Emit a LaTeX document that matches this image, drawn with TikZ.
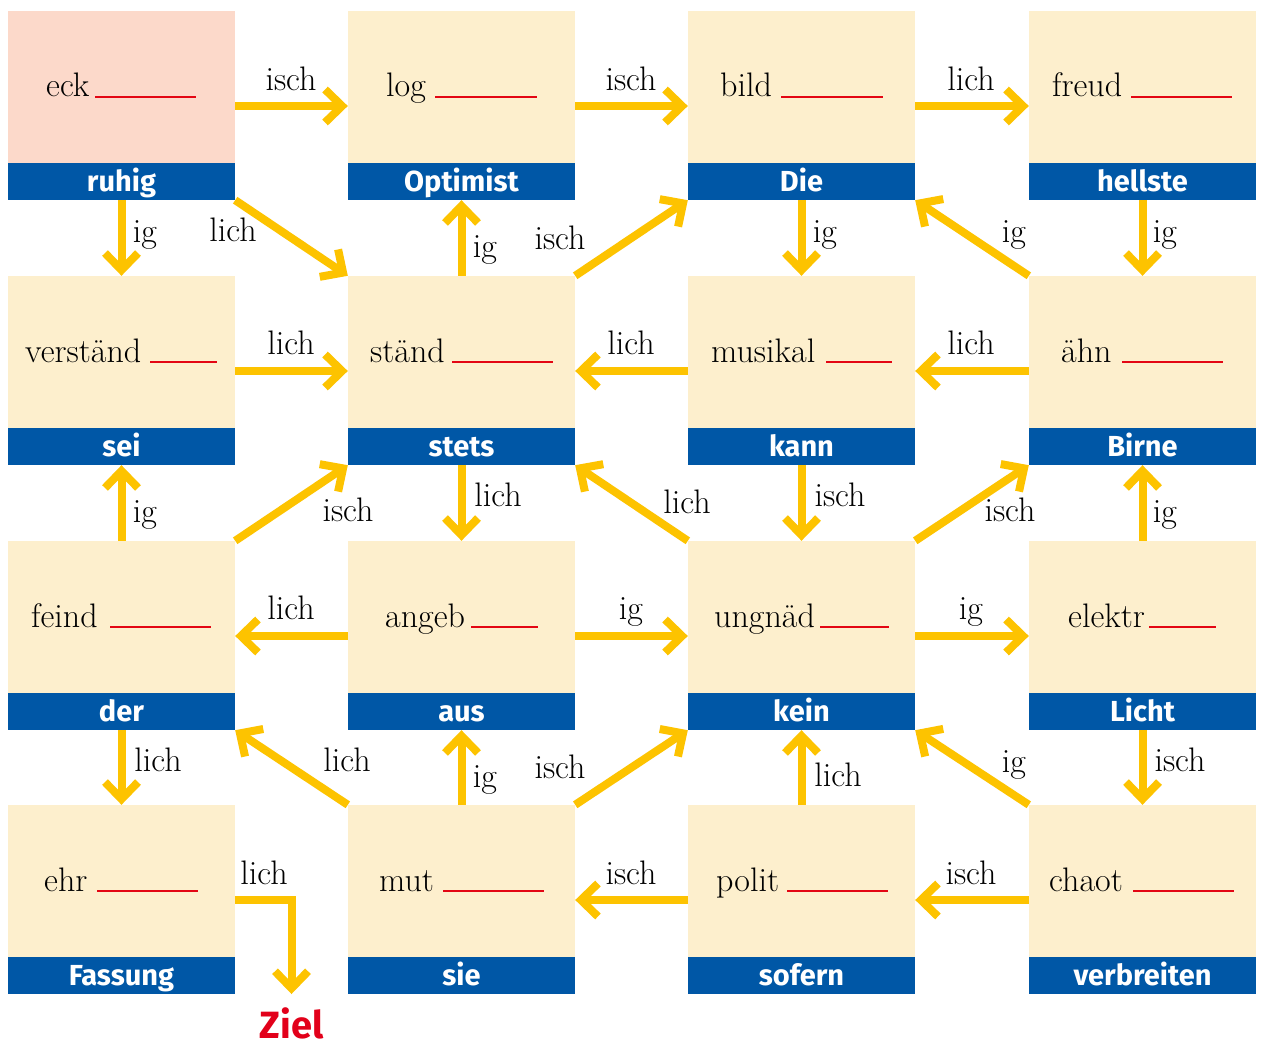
\documentclass[tikz,border=0pt]{standalone}
\usepackage{fontspec}
\newfontfamily\barfont{Fira Sans}
\usetikzlibrary{arrows.meta}
\definecolor{cream}{HTML}{FDEFCD}
\definecolor{salmon}{HTML}{FCD9CA}
\definecolor{barblue}{HTML}{0057A6}
\definecolor{arrowyellow}{HTML}{FDC300}
\definecolor{ulred}{HTML}{E30613}
\definecolor{zielred}{HTML}{E2001A}
\begin{document}
\begin{tikzpicture}[x=1pt,y=-1pt,
  box/.style={fill=cream, minimum width=227pt, minimum height=152pt, inner sep=0pt, draw=none},
  bar/.style={fill=barblue, minimum width=227pt, minimum height=37pt, inner sep=0pt, text=white,
    font=\barfont\bfseries\fontsize{29}{34}\selectfont, text height=22pt, text depth=3pt},
  word/.style={anchor=base west, inner sep=0pt, font=\fontsize{34}{40}\selectfont},
  lbl/.style={anchor=base, inner sep=0pt, font=\fontsize{34}{40}\selectfont},
  arr/.style={draw=arrowyellow, line width=8pt, -{Straight Barb[length=17pt,width=33pt]}},
  uline/.style={draw=ulred, line width=1.5pt}]
\useasboundingbox[fill=white] (0,0) rectangle (1263,1046);

% boxes
\node[box, fill=salmon] (u11) at (121.5,87) {};
\node[box] (u12) at (461.5,87) {};
\node[box] (u13) at (801.5,87) {};
\node[box] (u14) at (1142.5,87) {};
\node[bar] (l11) at (121.5,181.5) {ruhig};
\node[bar] (l12) at (461.5,181.5) {Optimist};
\node[bar] (l13) at (801.5,181.5) {Die};
\node[bar] (l14) at (1142.5,181.5) {hellste};

\node[box] (u21) at (121.5,352) {};
\node[box] (u22) at (461.5,352) {};
\node[box] (u23) at (801.5,352) {};
\node[box] (u24) at (1142.5,352) {};
\node[bar] (l21) at (121.5,446.5) {sei};
\node[bar] (l22) at (461.5,446.5) {stets};
\node[bar] (l23) at (801.5,446.5) {kann};
\node[bar] (l24) at (1142.5,446.5) {Birne};

\node[box] (u31) at (121.5,617) {};
\node[box] (u32) at (461.5,617) {};
\node[box] (u33) at (801.5,617) {};
\node[box] (u34) at (1142.5,617) {};
\node[bar] (l31) at (121.5,711.5) {der};
\node[bar] (l32) at (461.5,711.5) {aus};
\node[bar] (l33) at (801.5,711.5) {kein};
\node[bar] (l34) at (1142.5,711.5) {Licht};

\node[box] (u41) at (121.5,881) {};
\node[box] (u42) at (461.5,881) {};
\node[box] (u43) at (801.5,881) {};
\node[box] (u44) at (1142.5,881) {};
\node[bar] (l41) at (121.5,975.5) {Fassung};
\node[bar] (l42) at (461.5,975.5) {sie};
\node[bar] (l43) at (801.5,975.5) {sofern};
\node[bar] (l44) at (1142.5,975.5) {verbreiten};

% words and blanks
\node[word] (w11) at (46,97) {eck};      \draw[uline] (95,97) -- (196,97);
\node[word] (w12) at (386,97) {log};     \draw[uline] (435,97) -- (537,97);
\node[word] (w13) at (720,97) {bild};    \draw[uline] (781,97) -- (883,97);
\node[word] (w14) at (1052,97) {freud};  \draw[uline] (1131,97) -- (1232,97);
\node[word] (w21) at (25,362) {verständ};\draw[uline] (150,362) -- (217,362);
\node[word] (w22) at (370,362) {ständ};  \draw[uline] (452,362) -- (553,362);
\node[word] (w23) at (711,362) {musikal};\draw[uline] (826,362) -- (892,362);
\node[word] (w24) at (1061,362) {ähn};   \draw[uline] (1122,362) -- (1223,362);
\node[word] (w31) at (31,627) {feind};   \draw[uline] (110,627) -- (211,627);
\node[word] (w32) at (385,627) {angeb};  \draw[uline] (471,627) -- (538,627);
\node[word] (w33) at (714,627) {ungnäd}; \draw[uline] (820,627) -- (889,627);
\node[word] (w34) at (1068,627) {elektr};\draw[uline] (1149,627) -- (1216,627);
\node[word] (w41) at (44,891) {ehr};     \draw[uline] (97,891) -- (198,891);
\node[word] (w42) at (379,891) {mut};    \draw[uline] (443,891) -- (544,891);
\node[word] (w43) at (716,891) {polit};  \draw[uline] (787,891) -- (888,891);
\node[word] (w44) at (1049,891) {chaot}; \draw[uline] (1133,891) -- (1234,891);

% horizontal arrows
\draw[arr] ([yshift=-19pt]u11.east) -- ([yshift=-19pt]u12.west);
\draw[arr] ([yshift=-19pt]u12.east) -- ([yshift=-19pt]u13.west);
\draw[arr] ([yshift=-19pt]u13.east) -- ([yshift=-19pt]u14.west);
\draw[arr] ([yshift=-19pt]u21.east) -- ([yshift=-19pt]u22.west);
\draw[arr] ([yshift=-19pt]u23.west) -- ([yshift=-19pt]u22.east);
\draw[arr] ([yshift=-19pt]u24.west) -- ([yshift=-19pt]u23.east);
\draw[arr] ([yshift=-19pt]u32.west) -- ([yshift=-19pt]u31.east);
\draw[arr] ([yshift=-19pt]u32.east) -- ([yshift=-19pt]u33.west);
\draw[arr] ([yshift=-19pt]u33.east) -- ([yshift=-19pt]u34.west);
\draw[arr] ([yshift=-19pt]u43.west) -- ([yshift=-19pt]u42.east);
\draw[arr] ([yshift=-19pt]u44.west) -- ([yshift=-19pt]u43.east);

% vertical arrows
\draw[arr] (l11.south) -- (u21.north);
\draw[arr] (u22.north) -- (l12.south);
\draw[arr] (l13.south) -- (u23.north);
\draw[arr] (l14.south) -- (u24.north);
\draw[arr] (u31.north) -- (l21.south);
\draw[arr] (l22.south) -- (u32.north);
\draw[arr] (l23.south) -- (u33.north);
\draw[arr] (u34.north) -- (l24.south);
\draw[arr] (l31.south) -- (u41.north);
\draw[arr] (u42.north) -- (l32.south);
\draw[arr] (u43.north) -- (l33.south);
\draw[arr] (l34.south) -- (u44.north);

% diagonal arrows
\draw[arr] (l11.south east) -- (u22.north west);
\draw[arr] (u22.north east) -- (l13.south west);
\draw[arr] (u24.north west) -- (l13.south east);
\draw[arr] (u31.north east) -- (l22.south west);
\draw[arr] (u33.north west) -- (l22.south east);
\draw[arr] (u33.north east) -- (l24.south west);
\draw[arr] (u42.north west) -- (l31.south east);
\draw[arr] (u42.north east) -- (l33.south west);
\draw[arr] (u44.north west) -- (l33.south east);

% goal
\coordinate (zt) at (291.5,994);
\node[anchor=base, inner sep=0pt, text=zielred, font=\barfont\bfseries\fontsize{38}{44}\selectfont] (ziel) at (291.5,1038) {Ziel};
\draw[arr] ([yshift=-19pt]u41.east) -| (zt);

% labels
\node[lbl] (a1) at (291,91) {isch};
\node[lbl] (a2) at (631,91) {isch};
\node[lbl] (a3) at (971,91) {lich};
\node[lbl] (b1) at (145,242) {ig};
\node[lbl] (b2) at (233,241) {lich};
\node[lbl] (b3) at (485,257) {ig};
\node[lbl] (b4) at (560,249) {isch};
\node[lbl] (b5) at (825,242) {ig};
\node[lbl] (b6) at (1014,242) {ig};
\node[lbl] (b7) at (1165,242) {ig};
\node[lbl] (c1) at (291,354) {lich};
\node[lbl] (c2) at (631,354) {lich};
\node[lbl] (c3) at (971,354) {lich};
\node[lbl] (d1) at (145,522) {ig};
\node[lbl] (d2) at (348,521) {isch};
\node[lbl] (d3) at (498,506) {lich};
\node[lbl] (d4) at (687,513) {lich};
\node[lbl] (d5) at (840,506) {isch};
\node[lbl] (d6) at (1010,521) {isch};
\node[lbl] (d7) at (1165,522) {ig};
\node[lbl] (e1) at (291,619) {lich};
\node[lbl] (e2) at (631,619) {ig};
\node[lbl] (e3) at (971,619) {ig};
\node[lbl] (f1) at (158,771) {lich};
\node[lbl] (f2) at (347,771) {lich};
\node[lbl] (f3) at (485,787) {ig};
\node[lbl] (f4) at (560,778) {isch};
\node[lbl] (f5) at (838,786) {lich};
\node[lbl] (f6) at (1014,772) {ig};
\node[lbl] (f7) at (1180,771) {isch};
\node[lbl] (g1) at (264,884) {lich};
\node[lbl] (g2) at (631,884) {isch};
\node[lbl] (g3) at (971,884) {isch};
\end{tikzpicture}
\end{document}
